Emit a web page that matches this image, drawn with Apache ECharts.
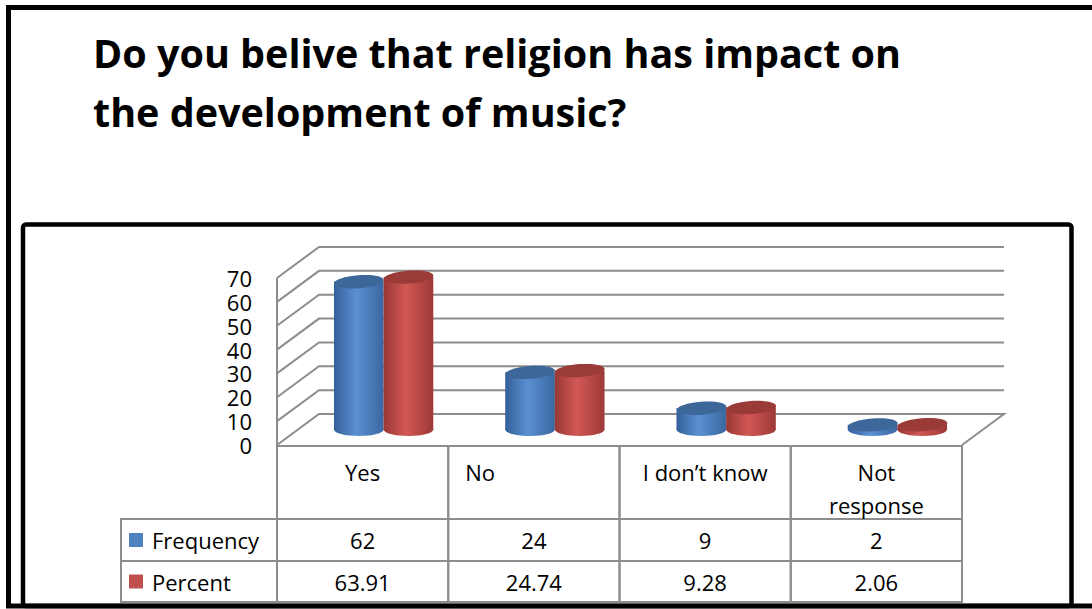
<!DOCTYPE html>
<html><head><meta charset="utf-8">
<script src="https://cdn.jsdelivr.net/npm/echarts@6/dist/echarts.min.js"></script>
<style>html,body{margin:0;padding:0;background:#fff;overflow:hidden}#c{width:1092px;height:609px}</style>
</head><body><div id="c"></div>
<script>
// ---------------- data ----------------
const titleText = 'Do you belive that religion has impact on\nthe development of music?';
const categories = ['Yes', 'No', 'I don\u2019t know', 'Not\nresponse'];
const seriesNames = ['Frequency', 'Percent'];
const frequency = [62, 24, 9, 2];
const percent = [63.91, 24.74, 9.28, 2.06];
const frequencyLabels = ['62', '24', '9', '2'];
const percentLabels = ['63.91', '24.74', '9.28', '2.06'];
const yTicks = [0, 10, 20, 30, 40, 50, 60, 70];
const yMin = 0, yMax = 70, yInterval = 10;

// ---------------- style ----------------
const FONT = '"Open Sans"';
const LINE = '#8d8d8d';
const DX = 42, DY = -31;            // 3D depth offset
const PAL = [
  { dark: '#34609a', light: '#5b90d2', edge: '#3a67a0', top: '#3c6798', flat: '#4f81bd' },
  { dark: '#9a3835', light: '#d25754', edge: '#9c3936', top: '#9a3b38', flat: '#c0504d' }
];
const HEADER_ALIGN = ['center', 'left', 'center', 'center'];

const chart = echarts.init(document.getElementById('c'), null, { renderer: 'svg' });

function wallRender(params, api) {
  const v = api.value(1);
  const cs = params.coordSys;
  const x0 = cs.x, x1 = cs.x + cs.width;
  const y = api.coord([0, v])[1];
  const pts = [[x0, y], [x0 + DX, y + DY], [x1 + DX, y + DY]];
  if (v === yMin) pts.push([x1, y]);
  const children = [{ type: 'polyline', shape: { points: pts }, style: { stroke: LINE, lineWidth: 2, fill: null } }];
  if (v === yMax) {
    children.push({ type: 'line', shape: { x1: x0, y1: y, x2: x0, y2: api.coord([0, yMin])[1] },
      style: { stroke: LINE, lineWidth: 2 } });
  }
  return { type: 'group', children };
}

function cylinderRender(si) {
  return function (params, api) {
    const i = api.value(0), v = api.value(1);
    const band = api.size([1, 0])[0];
    const w = band * 0.29;
    const base = api.coord([i, yMin]);
    const top = api.coord([i, v]);
    const cx = base[0] + DX / 2 + (si === 0 ? -w / 2 : w / 2);
    const yb = base[1] + DY / 2;
    const yt = top[1] + DY / 2;
    const ry = 6.5;
    const c = PAL[si];
    const grad = new echarts.graphic.LinearGradient(0, 0, 1, 0, [
      { offset: 0, color: c.dark }, { offset: 0.45, color: c.light }, { offset: 1, color: c.edge }]);
    return { type: 'group', children: [
      { type: 'ellipse', shape: { cx: cx, cy: yb, rx: w / 2, ry: ry }, style: { fill: grad } },
      { type: 'rect', shape: { x: cx - w / 2, y: yt, width: w, height: Math.max(0, yb - yt) }, style: { fill: grad } },
      { type: 'ellipse', shape: { cx: cx, cy: yt, rx: w / 2, ry: ry }, style: { fill: c.top },
        rotation: 0.07, originX: cx, originY: yt }
    ] };
  };
}

function tableRender(params, api) {
  const i = api.value(0);
  const band = api.size([1, 0])[0];
  const c = api.coord([i, yMin]);
  const xl = c[0] - band / 2;
  const y0 = c[1] + 1;
  const r1 = y0 + 73, r2 = r1 + 42, r3 = r2 + 41;
  const ls = { stroke: LINE, lineWidth: 2, fill: null };
  const ts = { fontFamily: FONT, fontSize: 22, fill: '#000' };
  const ch = [
    { type: 'rect', shape: { x: xl, y: y0, width: band, height: r1 - y0 }, style: ls },
    { type: 'rect', shape: { x: xl, y: r1, width: band, height: r2 - r1 }, style: ls },
    { type: 'rect', shape: { x: xl, y: r2, width: band, height: r3 - r2 }, style: ls },
    { type: 'text', x: HEADER_ALIGN[i] === 'left' ? xl + 17 : c[0], y: r1 - 64,
      style: Object.assign({ text: categories[i], align: HEADER_ALIGN[i], verticalAlign: 'top', lineHeight: 33 }, ts) },
    { type: 'text', x: c[0], y: (r1 + r2) / 2, style: Object.assign({ text: frequencyLabels[i], align: 'center', verticalAlign: 'middle' }, ts) },
    { type: 'text', x: c[0], y: (r2 + r3) / 2, style: Object.assign({ text: percentLabels[i], align: 'center', verticalAlign: 'middle' }, ts) }
  ];
  if (i === 0) {
    const lx = 121;
    [[r1, r2], [r2, r3]].forEach((r, k) => {
      ch.push({ type: 'rect', shape: { x: lx, y: r[0], width: xl - lx, height: r[1] - r[0] }, style: ls });
      const cy = (r[0] + r[1]) / 2;
      ch.push({ type: 'rect', shape: { x: lx + 8, y: cy - 7, width: 14, height: 14 }, style: { fill: PAL[k].flat } });
      ch.push({ type: 'text', x: lx + 31, y: cy, style: Object.assign({ text: seriesNames[k], align: 'left', verticalAlign: 'middle' }, ts) });
    });
  }
  return { type: 'group', children: ch };
}

chart.setOption({
  animation: false,
  backgroundColor: '#fff',
  title: {
    text: titleText, left: 93, top: 23, padding: 0,
    textStyle: { fontFamily: FONT, fontWeight: 'bold', fontSize: 39.5, lineHeight: 59, color: '#000' }
  },
  grid: { left: 277, right: 130, top: 278, bottom: 164 },
  xAxis: { type: 'category', data: categories, axisLine: { show: false }, axisTick: { show: false },
    axisLabel: { show: false }, splitLine: { show: false } },
  yAxis: { type: 'value', min: yMin, max: yMax, interval: yInterval,
    axisLine: { show: false }, axisTick: { show: false }, splitLine: { show: false },
    axisLabel: { fontFamily: FONT, fontSize: 22, lineHeight: 20, color: '#000', margin: 25 } },
  graphic: [
    { type: 'rect', shape: { x: 8.5, y: 7.5, width: 1100, height: 598.5 }, style: { stroke: '#000', lineWidth: 5, fill: null } },
    { type: 'rect', shape: { x: 23, y: 224.5, width: 1048.5, height: 381.5, r: 3 }, style: { stroke: '#000', lineWidth: 4.5, fill: null } }
  ],
  series: [
    { type: 'custom', name: 'walls', renderItem: wallRender, data: yTicks.map(v => [0, v]), encode: { x: 0, y: 1 }, z: 1, silent: true },
    { type: 'custom', name: seriesNames[0], renderItem: cylinderRender(0), data: frequency.map((v, i) => [i, v]), encode: { x: 0, y: 1 }, z: 3 },
    { type: 'custom', name: seriesNames[1], renderItem: cylinderRender(1), data: percent.map((v, i) => [i, v]), encode: { x: 0, y: 1 }, z: 3 },
    { type: 'custom', name: 'table', renderItem: tableRender, data: categories.map((c, i) => [i, 0]), encode: { x: 0, y: 1 }, z: 2, silent: true }
  ]
});
</script></body></html>
